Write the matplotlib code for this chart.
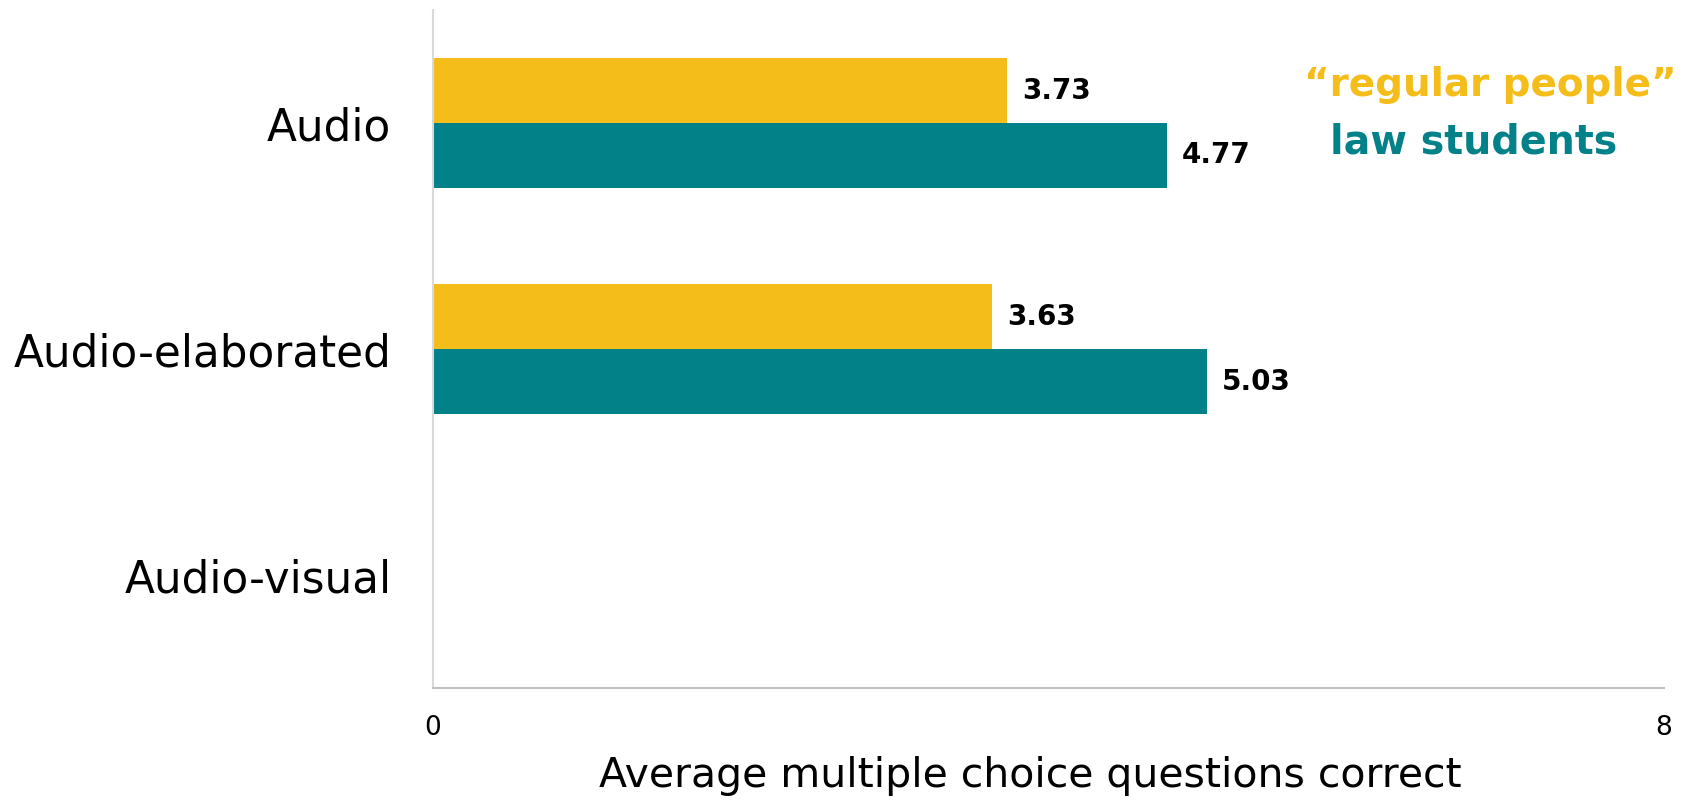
import matplotlib
matplotlib.use("Agg")
import matplotlib.pyplot as plt
import numpy as np

# --------------------------------------------------------------------------- #
# Data
# --------------------------------------------------------------------------- #
conditions = ["Audio", "Audio-elaborated", "Audio-visual"]
regular_people = [3.73, 3.63, np.nan]
law_students = [4.77, 5.03, np.nan]
x_ticks = [0, 8]

YELLOW = "#F5BD1A"
TEAL = "#038189"

plt.rcParams["font.family"] = ["DejaVu Sans"]

fig = plt.figure(figsize=(16.85, 8.02), dpi=100)
ax = fig.add_axes([0.257, 0.142, 0.7305, 0.8455])

y = np.arange(len(conditions))
h = 0.287
ax.barh(y - h / 2, regular_people, height=h, color=YELLOW)
ax.barh(y + h / 2, law_students, height=h, color=TEAL)

# value labels to the right of each bar
for yi, v in zip(y - h / 2, regular_people):
    if not np.isnan(v):
        ax.annotate(f"{v:.2f}", (v, yi), xytext=(11, 0), textcoords="offset points",
                    ha="left", va="center", fontsize=20, fontweight="bold")
for yi, v in zip(y + h / 2, law_students):
    if not np.isnan(v):
        ax.annotate(f"{v:.2f}", (v, yi), xytext=(11, 0), textcoords="offset points",
                    ha="left", va="center", fontsize=20, fontweight="bold")

ax.set_xlim(0, 8)
ax.set_ylim(2.5, -0.5)
ax.set_xticks(x_ticks)
ax.set_xticklabels([str(t) for t in x_ticks], fontsize=19)
ax.set_yticks(y)
ax.set_yticklabels(conditions, fontsize=31.5)
ax.tick_params(axis="y", length=0, pad=30)
ax.tick_params(axis="x", length=0, pad=19)

for side in ["top", "right"]:
    ax.spines[side].set_visible(False)
ax.spines["left"].set_color("#d9d9d9")
ax.spines["bottom"].set_color("#c0c0c0")
ax.spines["left"].set_linewidth(1.5)
ax.spines["bottom"].set_linewidth(1.5)

ax.set_xlabel("Average multiple choice questions correct", fontsize=29.5)
ax.xaxis.set_label_coords(0.485, -0.1)

# coloured text legend in the upper right
fig.text(1490 / 1685, 1 - 85 / 802, "\u201cregular people\u201d", color=YELLOW,
         fontsize=28, fontweight="bold", ha="center", va="center")
fig.text(1474 / 1685, 1 - 142 / 802, "law students", color=TEAL,
         fontsize=28.5, fontweight="bold", ha="center", va="center")

fig.savefig("out.png", dpi=100)
